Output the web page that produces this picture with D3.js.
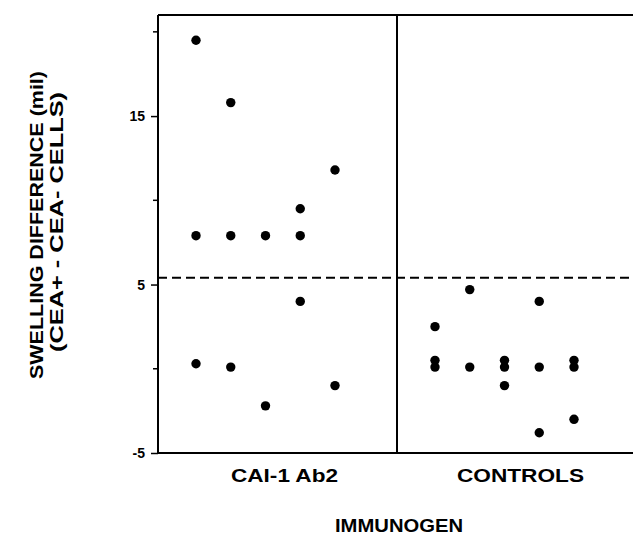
<!DOCTYPE html>
<html>
<head>
<meta charset="utf-8">
<script src="https://cdn.jsdelivr.net/npm/d3@7"></script>
<style>
  body { margin: 0; background: #fff; }
  text { font-family: "Liberation Sans", Arial, Helvetica, sans-serif; fill: #000; }
</style>
</head>
<body>
<svg width="633" height="537"></svg>
<script>
// groups along the x axis
var groups = ["CAI-1 Ab2", "CONTROLS"];

// each group: 5 columns of animals' swelling differences (mil)
var ab2Columns = [
    [19.5, 7.9, 0.3],
    [15.8, 7.9, 0.1],
    [7.9, -2.2],
    [9.5, 7.9, 4.0],
    [11.8, -1.0]
];
var controlColumns = [
    [2.5, 0.5, 0.1],
    [4.7, 0.1],
    [0.5, 0.1, -1.0],
    [4.0, 0.1, -3.8],
    [0.5, 0.1, -3.0]
];

var cutoff = 5.4;
var yTicks = [-5, 5, 15];
var yMinorTicks = [0, 10, 20];
var yDomain = [-5, 21];

var svg = d3.select("svg");

var plotLeft = 158, plotRight = 637, plotTop = 15, plotBottom = 453;

var x = d3.scaleBand().domain(groups).range([plotLeft, 397 + (397 - plotLeft)]).padding(0);
var col = d3.scalePoint().domain(d3.range(5)).range([38, 177]);
var y = d3.scaleLinear().domain(yDomain).range([plotBottom, plotTop]);

var points = [];
[ab2Columns, controlColumns].forEach(function(cols, gi) {
    cols.forEach(function(vals, ci) {
        vals.forEach(function(v) { points.push({ group: groups[gi], col: ci, value: v }); });
    });
});

// frame
svg.append("line").attr("x1", plotLeft).attr("x2", plotRight).attr("y1", plotTop).attr("y2", plotTop)
    .attr("stroke", "#000").attr("stroke-width", 2);
svg.append("line").attr("x1", plotLeft).attr("x2", plotRight).attr("y1", plotBottom).attr("y2", plotBottom)
    .attr("stroke", "#000").attr("stroke-width", 2);
svg.append("line").attr("x1", x(groups[1])).attr("x2", x(groups[1])).attr("y1", plotTop).attr("y2", plotBottom)
    .attr("stroke", "#000").attr("stroke-width", 2);

// y axis
var yAxis = svg.append("g")
    .attr("transform", "translate(" + plotLeft + ",0)")
    .call(d3.axisLeft(y).tickValues(yTicks).tickFormat(function(d) { return String(d); })
        .tickSize(7).tickPadding(6).tickSizeOuter(0));
yAxis.select(".domain").attr("stroke-width", 2).attr("d", "M0," + plotTop + "V" + plotBottom);
yAxis.selectAll(".tick line").attr("stroke-width", 1.5);
yAxis.selectAll(".tick text").style("font-size", "14px").style("font-weight", "bold")
    .style("font-family", "'Liberation Sans', Arial, sans-serif");

svg.append("g").selectAll("line").data(yMinorTicks).enter().append("line")
    .attr("x1", plotLeft - 5).attr("x2", plotLeft)
    .attr("y1", function(d) { return y(d); }).attr("y2", function(d) { return y(d); })
    .attr("stroke", "#000").attr("stroke-width", 1.5);

// cutoff line
svg.append("line")
    .attr("x1", plotLeft).attr("x2", plotRight)
    .attr("y1", y(cutoff)).attr("y2", y(cutoff))
    .attr("stroke", "#000").attr("stroke-width", 2).attr("stroke-dasharray", "9,5");

// dots
svg.append("g").selectAll("circle").data(points).enter().append("circle")
    .attr("cx", function(d) { return x(d.group) + col(d.col); })
    .attr("cy", function(d) { return y(d.value); })
    .attr("r", 4.7)
    .attr("fill", "#000");

// category labels
var labelLen = { "CAI-1 Ab2": 107, "CONTROLS": 127 };
var labelOff = { "CAI-1 Ab2": 7, "CONTROLS": 4 };
svg.append("g").selectAll("text").data(groups).enter().append("text")
    .attr("x", function(d) { return x(d) + x.bandwidth() / 2 + labelOff[d]; })
    .attr("y", 482)
    .attr("text-anchor", "middle")
    .attr("textLength", function(d) { return labelLen[d]; })
    .attr("lengthAdjust", "spacingAndGlyphs")
    .style("font-size", "18px").style("font-weight", "bold")
    .text(function(d) { return d; });

svg.append("text")
    .attr("x", 399).attr("y", 532)
    .attr("text-anchor", "middle")
    .attr("textLength", 128).attr("lengthAdjust", "spacingAndGlyphs")
    .style("font-size", "18px").style("font-weight", "bold")
    .text("IMMUNOGEN");

// y title
svg.append("text")
    .attr("transform", "translate(43,225) rotate(-90)")
    .attr("text-anchor", "middle")
    .attr("textLength", 308).attr("lengthAdjust", "spacingAndGlyphs")
    .style("font-size", "18px").style("font-weight", "bold")
    .text("SWELLING  DIFFERENCE  (mil)");
svg.append("text")
    .attr("transform", "translate(63,222) rotate(-90)")
    .attr("text-anchor", "middle")
    .attr("textLength", 260).attr("lengthAdjust", "spacingAndGlyphs")
    .style("font-size", "18px").style("font-weight", "bold")
    .text("(CEA+ - CEA- CELLS)");
</script>
</body>
</html>
